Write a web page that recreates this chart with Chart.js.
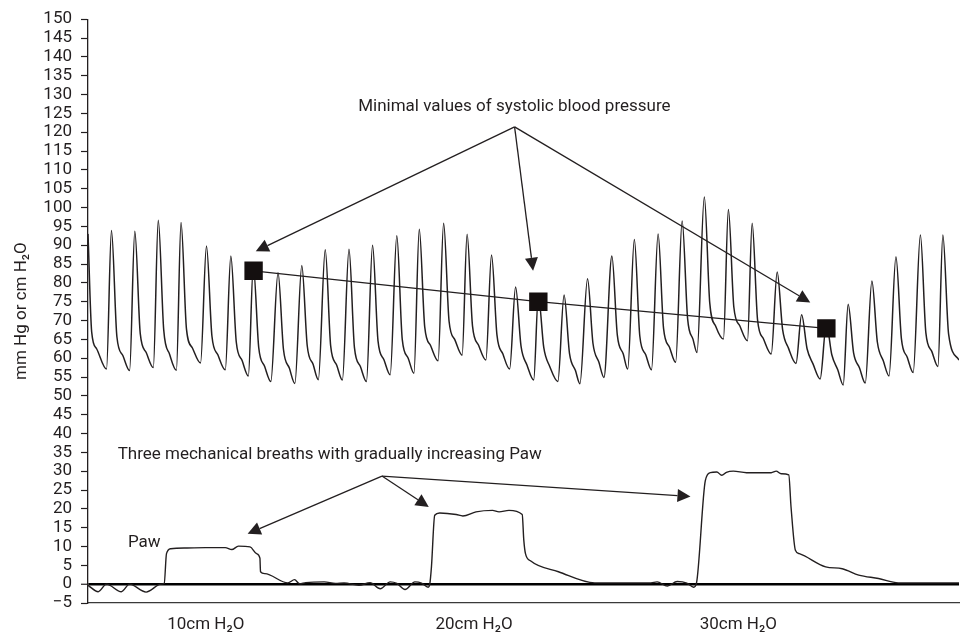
<!DOCTYPE html>
<html><head><meta charset="utf-8">
<script src="https://cdn.jsdelivr.net/npm/chart.js@4.4.1/dist/chart.umd.min.js"></script>
<style>html,body{margin:0;padding:0;background:#fff;} canvas{display:block;}</style>
</head><body>
<canvas id="c" width="972" height="634"></canvas>
<script>
// Arterial blood pressure trace (time in arbitrary sample units, mm Hg)
const bpTime = [0, 3.7, 8.7,
  18.7, 23.7, 29.2, 35.2,   42.0, 47.3, 52.8, 58.8,   66.0, 71.0, 76.5, 82.5,
  89.3, 94.0, 99.5, 105.5,  113.7, 119.7, 125.2, 131.2, 138.7, 144.3, 149.8, 155.8,
  162.0, 167.0, 172.5, 178.5, 184.7, 192.0, 197.5, 203.5, 209.0, 216.0, 221.5, 227.5,
  232.7, 239.7, 245.2, 251.2, 257.0, 263.7, 269.2, 275.2, 281.3, 287.5, 293.0, 299.0,
  305.3, 312.0, 317.5, 323.5, 329.3, 334.7, 340.2, 346.2, 353.7, 359.3, 364.8, 370.8,
  378.0, 383.0, 388.5, 394.5, 402.0, 407.7, 413.2, 419.2, 426.0, 432.0, 437.5, 443.5,
  450.3, 455.0, 460.5, 466.5, 474.7, 481.0, 486.5, 492.5, 497.0, 504.7, 510.2, 516.2,
  521.3, 529.3, 534.8, 540.8, 545.3, 552.0, 557.5, 563.5, 569.3, 576.0, 581.5, 587.5,
  593.7, 600.3, 605.8, 611.3, 615.3, 622.7, 628.2, 634.5, 642.0, 647.0, 652.5, 658.5,
  666.3, 671.0, 676.5, 682.5, 690.3, 696.3, 701.8, 707.8, 715.3, 721.0, 726.5, 732.5,
  739.7, 746.0, 751.5, 757.5, 763.0, 768.0, 773.5, 779.5, 785.3, 792.0, 797.5, 803.5,
  809.3, 816.3, 821.8, 827.8, 833.7, 841.0, 846.5, 852.5, 858.7, 863.7, 869.5, 880];
const bpValue = [93.0, 67.0, 62.5,
  57.1, 93.9, 65.7, 60.7,   56.7, 93.7, 66.5, 61.5,   57.5, 96.6, 67.5, 61.0,
  56.8, 96.0, 67.7, 62.7,   58.7, 89.8, 65.9, 60.9,   56.9, 87.1, 64.3, 59.3,
  55.3, 84.5, 62.8, 57.8,   53.8, 82.7, 62.3, 57.3,   53.3, 84.6, 63.3, 58.3,
  54.3, 88.8, 63.2, 58.2,   54.2, 88.9, 62.8, 57.8,   53.8, 90.0, 64.6, 59.6,
  55.6, 92.5, 65.0, 60.0,   56.0, 94.2, 68.3, 63.3,   59.3, 95.8, 69.8, 64.8,
  60.8, 92.9, 68.5, 63.5,   59.5, 87.4, 66.1, 61.1,   57.1, 78.9, 63.2, 58.2,
  54.2, 76.5, 62.8, 57.8,   53.8, 76.8, 61.2, 56.7,   53.2, 81.1, 63.9, 58.9,
  54.9, 87.1, 66.1, 61.1,   57.1, 91.5, 65.9, 60.9,   56.9, 93.0, 67.9, 62.9,
  58.9, 96.4, 70.5, 65.0,   61.5, 102.8, 74.6, 68.3,  65.1, 99.5, 73.6, 68.6,
  64.6, 95.8, 70.1, 65.1,   61.1, 82.9, 67.6, 62.6,   58.6, 71.5, 62.5, 58.5,
  54.5, 69.0, 60.9, 56.9,   52.9, 74.3, 61.4, 57.4,   53.4, 80.5, 64.3, 59.3,
  55.3, 86.9, 65.2, 60.2,   56.2, 92.7, 66.8, 61.8,   57.8, 92.7, 66.4, 59.5];

// Airway pressure trace (cm H2O)
const pawTime = [0, 10.3, 18.7, 33.7, 42, 58.7, 73.7, 77, 79.3, 83.7,
  100, 118.7, 138.7, 145.3, 152, 163.7, 170.3, 173.7, 174.3, 178.7,
  202, 208.7, 213.7, 220, 238.7, 250, 258.7, 273.7, 285, 295.3,
  305.3, 312, 320.3, 330.3, 337, 343.7, 345.3, 347, 350.3, 355.3,
  372, 378.7, 392, 408.7, 415.3, 425.3, 438.7, 440.3, 442, 447,
  475.3, 512, 568.7, 575, 585.3, 595.3, 605, 612, 614.7, 623.7,
  628.7, 635.3, 640.3, 645, 652, 665.3, 690.3, 695.3, 700.3, 708,
  710.3, 714.7, 718.7, 745.3, 762, 778.7, 798.7, 818.7, 880];
const pawValue = [-0.3, -2.0, 0, -2.0, 0, -2.1, 0, 0.2, 8.1, 9.4,
  9.6, 9.7, 9.7, 9.2, 10.1, 9.9, 8.1, 6.9, 3.3, 2.8,
  0.35, 1.2, 0.1, 0.4, 0.6, 0.2, 0.3, -0.3, 0.4, -1.2,
  0.6, 0.2, -1.4, 0.6, 0.3, -0.8, 0, 4.6, 18.3, 18.9,
  18.5, 18.1, 19.2, 19.6, 19.2, 19.6, 18.5, 11.7, 8.1, 6.2,
  3.3, 0.35, 0.35, 0.6, -0.5, 0.7, 0.3, -0.8, 0.2, 27.5,
  29.6, 29.8, 28.9, 29.7, 30.0, 29.6, 29.6, 30.0, 29.3, 29.0,
  20.5, 9.0, 8.1, 4.6, 4.1, 2.4, 1.5, 0.35, 0.35];

// Minimal systolic values (markers)
const minTime = [167.3, 455, 746];
const minValue = [83.2, 75.0, 67.9];

// Axis labels
const xTickValues = [119, 390, 657];
const xTickLabels = ['10cm H\u2082O', '20cm H\u2082O', '30cm H\u2082O'];
const yTitle = 'mm Hg or cm H\u2082O';

// Annotations (data coordinates)
const topNote = 'Minimal values of systolic blood pressure';
const topNoteAt = [273, 125.5];
const topArrowFrom = [431, 121.4];
const topArrowTo = [[169.5, 88.4], [449.7, 83.2], [729.7, 74.8]];
const bottomNote = 'Three mechanical breaths with gradually increasing Paw';
const bottomNoteAt = [30, 33.2];
const bottomArrowFrom = [297, 28.7];
const bottomArrowTo = [[161.3, 13.4], [344.3, 20.5], [608.7, 23.3]];
const pawNote = 'Paw';
const pawNoteAt = [40.3, 9.9];

const ink = '#231f20';
const FONT = 'Roboto';
const FS = 17;

const annotPlugin = {
  id: 'annot',
  afterDatasetsDraw(chart) {
    const {ctx, scales: {x, y}} = chart;
    ctx.save();
    ctx.strokeStyle = ink; ctx.fillStyle = ink; ctx.lineWidth = 1.3;
    const arrow = (o, t) => {
      const x0 = x.getPixelForValue(o[0]), y0 = y.getPixelForValue(o[1]);
      const x1 = x.getPixelForValue(t[0]), y1 = y.getPixelForValue(t[1]);
      const a = Math.atan2(y1 - y0, x1 - x0);
      const L = 13, W = 6.5;
      const bx = x1 - L * Math.cos(a), by = y1 - L * Math.sin(a);
      ctx.beginPath(); ctx.moveTo(x0, y0); ctx.lineTo(bx, by); ctx.stroke();
      ctx.beginPath(); ctx.moveTo(x1, y1);
      ctx.lineTo(bx + W * Math.sin(a), by - W * Math.cos(a));
      ctx.lineTo(bx - W * Math.sin(a), by + W * Math.cos(a));
      ctx.closePath(); ctx.fill();
    };
    topArrowTo.forEach(t => arrow(topArrowFrom, t));
    bottomArrowTo.forEach(t => arrow(bottomArrowFrom, t));
    ctx.font = FS + 'px ' + FONT;
    ctx.textAlign = 'left'; ctx.textBaseline = 'alphabetic';
    const txt = (s, p) => ctx.fillText(s, x.getPixelForValue(p[0]), y.getPixelForValue(p[1]));
    txt(topNote, topNoteAt);
    txt(bottomNote, bottomNoteAt);
    txt(pawNote, pawNoteAt);
    ctx.restore();
  }
};

const pts = (ts, vs) => ts.map((t, i) => ({x: t, y: vs[i]}));

new Chart(document.getElementById('c'), {
  type: 'line',
  data: {
    datasets: [
      { label: 'Minimal systolic pressure', data: pts(minTime, minValue),
        borderColor: ink, borderWidth: 1.3, pointStyle: 'rect', pointRadius: 13,
        pointBackgroundColor: '#140f0f', pointBorderWidth: 0, tension: 0 },
      { label: 'Arterial pressure', data: pts(bpTime, bpValue),
        borderColor: ink, borderWidth: 1.5, pointRadius: 0, cubicInterpolationMode: 'monotone' },
      { label: 'Paw', data: pts(pawTime, pawValue),
        borderColor: ink, borderWidth: 1.4, pointRadius: 0, cubicInterpolationMode: 'monotone' }
    ]
  },
  options: {
    responsive: false, animation: false, devicePixelRatio: 1,
    layout: { padding: { top: 17.7, right: 4, left: 0, bottom: 0 } },
    plugins: { legend: { display: false }, tooltip: { enabled: false } },
    scales: {
      x: {
        type: 'linear', min: 0, max: 880,
        grid: { display: false },
        border: { display: true, color: '#3a3a3a', width: 1.3 },
        afterBuildTicks: ax => { ax.ticks = xTickValues.map(v => ({value: v})); },
        afterFit: ax => { ax.height = 31; },
        ticks: { callback: (v, i) => xTickLabels[i], font: {family: FONT, size: FS}, color: ink,
                 padding: 4, maxRotation: 0, autoSkip: false }
      },
      y: {
        min: -5, max: 150,
        afterFit: ax => { ax.width = 88; },
        ticks: { stepSize: 5, autoSkip: false, font: {family: FONT, size: FS}, color: ink, padding: 9,
                 callback: v => String(v).replace('-', '\u2212') },
        grid: {
          drawOnChartArea: true,
          color: c => (c.tick && c.tick.value === 0) ? '#000' : 'rgba(0,0,0,0)',
          lineWidth: c => (c.tick && c.tick.value === 0) ? 2.5 : 1,
          tickColor: ink, tickWidth: 1.2, tickLength: 7
        },
        border: { display: true, color: ink, width: 1.3 },
        title: { display: true, text: yTitle, font: {family: FONT, size: FS}, color: ink,
                 padding: {top: 12, bottom: 0} }
      }
    }
  },
  plugins: [annotPlugin]
});
</script>
</body></html>
